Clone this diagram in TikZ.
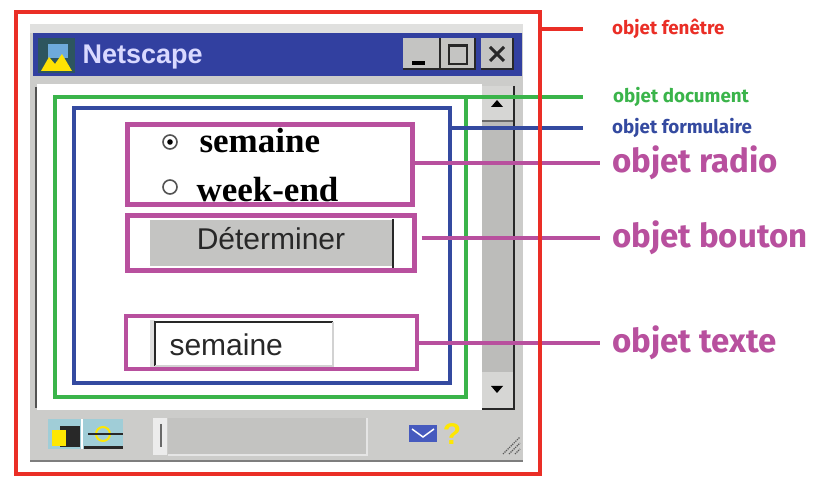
\documentclass[tikz,border=0pt]{standalone}
\usepackage{fontspec}
\setmainfont{Liberation Sans}
\newfontfamily\lblfont{Fira Sans}
\newfontfamily\radiofont{Liberation Serif}
\usepackage{tikz}
\usetikzlibrary{calc}

\definecolor{rouge}{RGB}{234,46,38}
\definecolor{vert}{RGB}{58,180,74}
\definecolor{bleu}{RGB}{52,74,160}
\definecolor{mauve}{RGB}{184,80,158}
\definecolor{titre}{RGB}{50,64,160}
\definecolor{cadre}{RGB}{204,204,202}
\definecolor{piste}{RGB}{188,188,186}
\definecolor{bouton}{RGB}{196,196,194}
\definecolor{ombre}{RGB}{40,40,40}
\definecolor{icone}{RGB}{45,85,95}
\definecolor{ciel}{RGB}{110,170,220}
\definecolor{clair}{RGB}{160,205,215}
\definecolor{courrier}{RGB}{70,90,190}

\begin{document}
\begin{tikzpicture}[x=1pt,y=-1pt,
  cadrebox/.style={draw=#1,line width=4pt,inner sep=0pt,outer sep=0pt},
  objbox/.style={draw=mauve,line width=4.5pt,inner sep=0pt,outer sep=0pt},
  petit/.style={anchor=west,inner sep=0pt,text=#1,font=\lblfont\bfseries\fontsize{18.8}{18.8}\selectfont},
  grand/.style={anchor=west,inner sep=0pt,text=mauve,font=\lblfont\bfseries\fontsize{33}{33}\selectfont}]
\useasboundingbox[fill=white] (0,0) rectangle (815,478);
% fenetre Netscape
\fill[cadre] (30,24) rectangle (523,462);
\fill[cadre!60!white] (30,24) rectangle (523,33);
\draw[ombre!60,line width=1.5pt] (30,461) -- (523,461);
\fill[titre] (33,33) rectangle (522,76);
\fill[icone] (38,38) rectangle (75,73);
\fill[ciel] (48,44) rectangle (68,58);
\fill[yellow!85!orange] (41,71) -- (49,57) -- (55,64) -- (62,54) -- (72,71) -- cycle;
\node[anchor=west,text=white!85!blue,font=\bfseries\fontsize{27}{27}\selectfont] (nom) at (79,57) {Netscape};
\foreach \a/\b in {403/440,441/475,481/513}{
  \fill[bouton] (\a,38) rectangle (\b,69);
  \draw[ombre,line width=1.5pt] (\a,69) -- (\b,69) -- (\b,38);
}
\fill[black] (412,61) rectangle (425,65);
\draw[ombre,line width=2pt] (449,45) rectangle (467,64);
\draw[ombre,line width=2pt] (449,46) -- (467,46);
\draw[ombre,line width=3pt] (490,47) -- (504,61) (504,47) -- (490,61);
% zone du document
\fill[white] (37,84) rectangle (482,410);
\draw[ombre!80,line width=2.5pt] (36,87) -- (36,408);
\fill[piste] (482,86) rectangle (514,410);
\fill[bouton!70!white] (482,86) rectangle (514,121);
\fill[bouton!70!white] (482,372) rectangle (514,410);
\draw[ombre!70,line width=2pt] (482,121) -- (514,121);
\draw[ombre,line width=2pt] (514,86) -- (514,410);
\draw[ombre,line width=2pt] (482,409) -- (515,409);
\fill[black] (491,107) -- (503,107) -- (497,100) -- cycle;
\fill[black] (491,386) -- (503,386) -- (497,393) -- cycle;
% barre d'etat
\fill[clair] (48,419) rectangle (123,449);
\fill[ombre] (60,426) rectangle (80,447);
\fill[yellow!90!orange] (52,430) rectangle (66,446);
\fill[ombre] (84,449) rectangle (123,446);
\draw[yellow!90!orange,line width=2pt] (103,434) circle (7pt);
\draw[ombre,line width=1.5pt] (88,434) -- (123,434);
\draw[white,line width=1.5pt] (82,419) -- (82,449);
\fill[white!85!gray] (153,418) rectangle (167,455);
\draw[ombre!70,line width=2pt] (161,424) -- (161,447);
\fill[piste!90!white] (168,418) rectangle (367,455);
\draw[white!80!gray,line width=1.5pt] (168,455) -- (367,455) -- (367,418);
\fill[courrier] (409,425) rectangle (437,442);
\draw[white,line width=1.5pt] (412,429) -- (423,437) -- (434,429);
\node[text=yellow!90!orange,font=\bfseries\fontsize{30}{30}\selectfont] (aide) at (452,434) {?};
\foreach \d in {0,6,12}
\draw[gray!70!black,densely dotted,line width=1.2pt] (503+\d,454) -- (520,437+\d);
% objets du formulaire
\fill[bouton] (150,220) rectangle (393,266);
\draw[ombre,line width=2pt] (393,219) -- (393,268);
\node[anchor=base,text=ombre,font=\fontsize{30}{30}\selectfont] (det) at (271,250) {Déterminer};
\fill[gray!25] (150,320) rectangle (155,368);
\draw[ombre,line width=2pt] (155,366) -- (155,322) -- (333,322);
\draw[gray!35,line width=2pt] (333,322) -- (333,366) -- (155,366);
\node[anchor=base west,text=ombre,font=\fontsize{30}{30}\selectfont] (saisie) at (166,356) {semaine};
\draw[ombre!80,line width=1.6pt] (170,142) circle (7pt) (170,187) circle (7pt);
\fill[black] (170,142) circle (2.8pt);
\node[anchor=base west,font=\radiofont\bfseries\fontsize{35}{35}\selectfont] (choix1) at (196,153) {semaine};
\node[anchor=base west,font=\radiofont\bfseries\fontsize{35}{35}\selectfont] (choix2) at (193,202) {week-end};
% cadres colores
\node[cadrebox=vert,minimum width=411pt,minimum height=300pt] (document) at (260.5,247) {};
\node[cadrebox=bleu,minimum width=376pt,minimum height=275pt] (formulaire) at (262,245.5) {};
\node[objbox,minimum width=285pt,minimum height=80pt] (radio) at (270,164.5) {};
\node[objbox,minimum width=287pt,minimum height=55pt] (bouton) at (271,243) {};
\node[objbox,minimum width=291pt,minimum height=53pt] (texte) at (271.5,342.5) {};
% etiquettes
\node[petit=rouge] (lblfenetre) at (612,29) {objet fenêtre};
\node[petit=vert] (lbldocument) at (613,97) {objet document};
\node[petit=bleu] (lblformulaire) at (612,128) {objet formulaire};
\node[grand] (lblradio) at (612,163) {objet radio};
\node[grand] (lblbouton) at (612,238) {objet bouton};
\node[grand] (lbltexte) at (612,343) {objet texte};
\draw[vert,line width=4pt,shorten >=30pt] (document.north east) -- (lbldocument.west);
\draw[bleu,line width=4pt,shorten >=29pt] (formulaire.east |- lblformulaire.west) -- (lblformulaire.west);
\draw[mauve,line width=4.5pt,shorten >=12pt] (radio.east |- lblradio.west) -- (lblradio.west);
\draw[mauve,line width=4.5pt,shorten <=7pt,shorten >=12pt] (bouton.east |- lblbouton.west) -- (lblbouton.west);
\draw[mauve,line width=4.5pt,shorten >=12pt] (texte.east |- lbltexte.west) -- (lbltexte.west);
\node[cadrebox=rouge,minimum width=524pt,minimum height=462pt] (fenetre) at (278,243) {};
\draw[rouge,line width=4pt,shorten >=29pt] (fenetre.east |- lblfenetre.west) -- (lblfenetre.west);
\end{tikzpicture}
\end{document}
